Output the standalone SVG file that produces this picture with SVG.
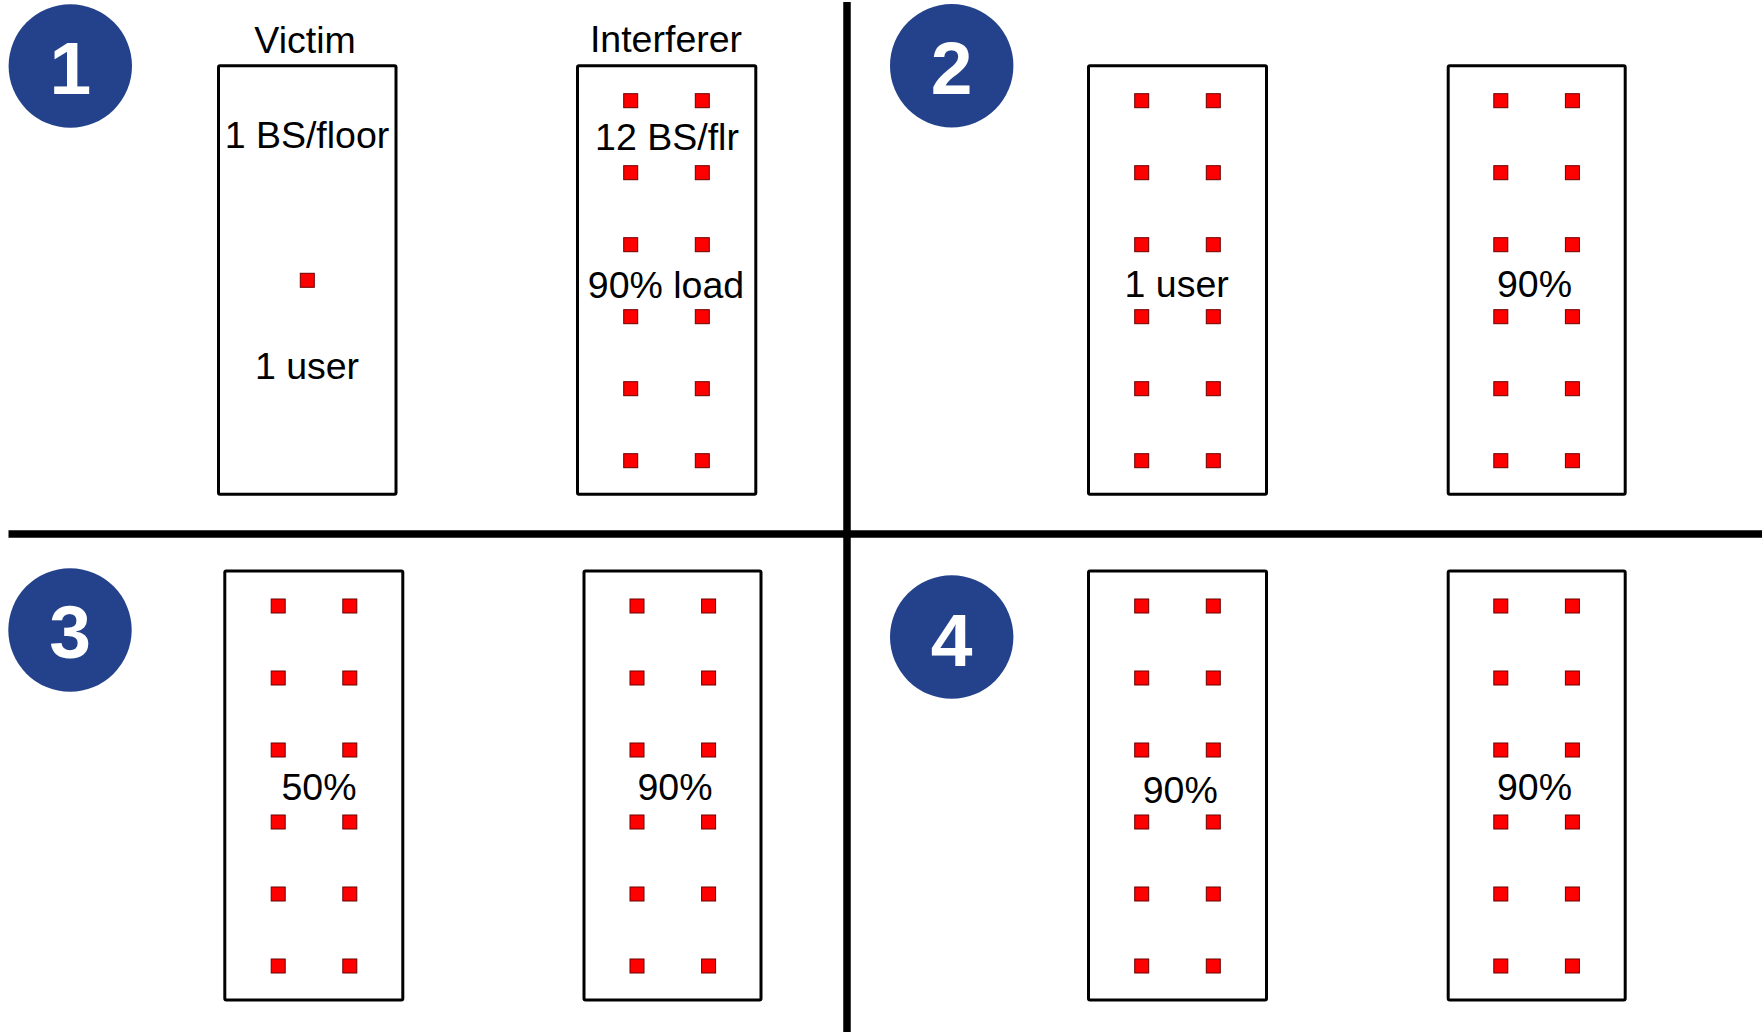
<svg xmlns="http://www.w3.org/2000/svg" xmlns:xlink="http://www.w3.org/1999/xlink" width="1762" height="1032" viewBox="0 0 1762 1032">
<style>
.bg{fill:#ffffff}
.box{fill:#ffffff;stroke:#000000;stroke-width:3;stroke-linejoin:round}
.bs{fill:#ff0000;stroke:#6a0000;stroke-width:1}
.lbl{font-family:"Liberation Sans",Arial,sans-serif;font-size:37.5px;fill:#000000;text-anchor:middle}
.badge{fill:#24428b}
.num{font-family:"Liberation Sans",Arial,sans-serif;font-size:75px;font-weight:bold;fill:#ffffff;text-anchor:middle}
.div{stroke:#000000;stroke-width:7.5;fill:none}
</style>
<defs>
<rect id="sq" class="bs" x="-7" y="-7" width="14" height="14"/>
<g id="col6">
<use xlink:href="#sq" x="0" y="0"/>
<use xlink:href="#sq" x="0" y="72"/>
<use xlink:href="#sq" x="0" y="144"/>
<use xlink:href="#sq" x="0" y="216"/>
<use xlink:href="#sq" x="0" y="288"/>
<use xlink:href="#sq" x="0" y="360"/>
</g>
</defs>
<rect class="bg" x="0" y="0" width="1762" height="1032"/>

<g id="dividers">
<line class="div" x1="8.5" y1="534" x2="1762" y2="534"/>
<line class="div" x1="847" y1="2" x2="847" y2="1032"/>
</g>

<g id="badge1"><circle class="badge" cx="70.3" cy="66" r="61.7"/><text class="num" x="70.3" y="94.3">1</text></g>
<g id="badge2"><circle class="badge" cx="951.7" cy="65.7" r="61.7"/><text class="num" x="951.7" y="94">2</text></g>
<g id="badge3"><circle class="badge" cx="70" cy="630" r="61.7"/><text class="num" x="70" y="658">3</text></g>
<g id="badge4"><circle class="badge" cx="951.7" cy="637" r="61.7"/><text class="num" x="951.7" y="665.5">4</text></g>

<g id="victim1">
<text class="lbl" x="305" y="52.7">Victim</text>
<rect class="box" x="218.5" y="65.8" width="177.5" height="428.5" rx="1.5"/>
<text class="lbl" x="307" y="147.7">1 BS/floor</text>
<use xlink:href="#sq" x="307.3" y="280.3"/>
<text class="lbl" x="307" y="379">1 user</text>
</g>

<g id="interferer1">
<text class="lbl" x="666" y="52.3">Interferer</text>
<rect class="box" x="577.5" y="65.8" width="178.3" height="428.5" rx="1.5"/>
<use xlink:href="#col6" x="630.7" y="100.7"/>
<use xlink:href="#col6" x="702.3" y="100.7"/>
<text class="lbl" x="667" y="150">12 BS/flr</text>
<text class="lbl" x="666" y="297.7">90% load</text>
</g>

<g id="victim2">
<rect class="box" x="1088.5" y="65.8" width="178" height="428.5" rx="1.5"/>
<use xlink:href="#col6" x="1141.7" y="100.7"/>
<use xlink:href="#col6" x="1213.3" y="100.7"/>
<text class="lbl" x="1176.7" y="297">1 user</text>
</g>

<g id="interferer2">
<rect class="box" x="1448.2" y="65.8" width="177" height="428.5" rx="1.5"/>
<use xlink:href="#col6" x="1500.8" y="100.7"/>
<use xlink:href="#col6" x="1572.4" y="100.7"/>
<text class="lbl" x="1534.5" y="296.7">90%</text>
</g>

<g id="victim3">
<rect class="box" x="224.8" y="571" width="178" height="429" rx="1.5"/>
<use xlink:href="#col6" x="278.2" y="606"/>
<use xlink:href="#col6" x="349.8" y="606"/>
<text class="lbl" x="319" y="799.5">50%</text>
</g>

<g id="interferer3">
<rect class="box" x="584" y="571" width="177" height="429" rx="1.5"/>
<use xlink:href="#col6" x="637" y="606"/>
<use xlink:href="#col6" x="708.6" y="606"/>
<text class="lbl" x="675" y="800">90%</text>
</g>

<g id="victim4">
<rect class="box" x="1088.5" y="571" width="178" height="429" rx="1.5"/>
<use xlink:href="#col6" x="1141.7" y="606"/>
<use xlink:href="#col6" x="1213.3" y="606"/>
<text class="lbl" x="1180.3" y="802.7">90%</text>
</g>

<g id="interferer4">
<rect class="box" x="1448.2" y="571" width="177" height="429" rx="1.5"/>
<use xlink:href="#col6" x="1500.8" y="606"/>
<use xlink:href="#col6" x="1572.4" y="606"/>
<text class="lbl" x="1534.5" y="799.5">90%</text>
</g>
</svg>
